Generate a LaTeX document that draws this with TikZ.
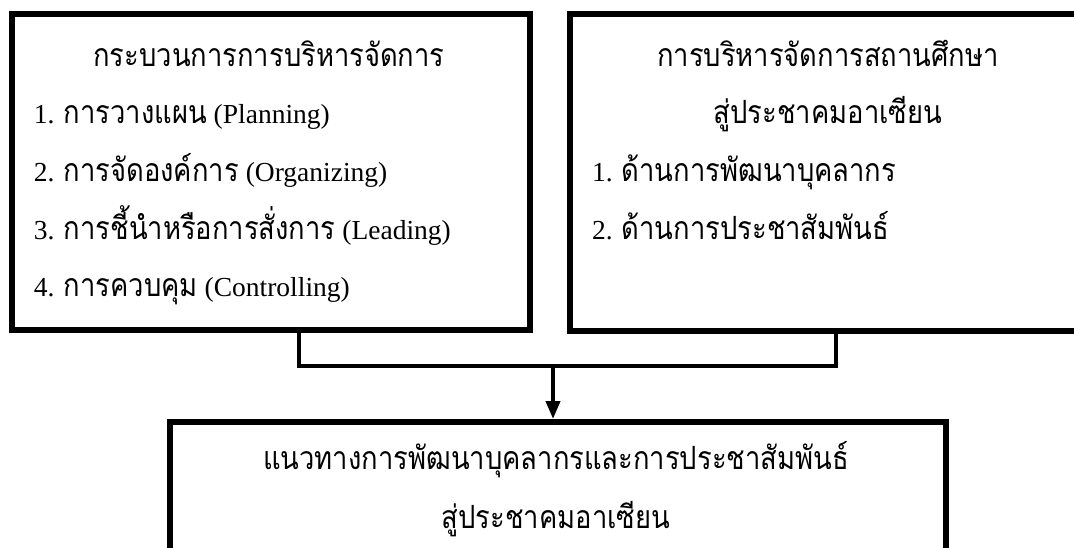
\documentclass[tikz,border=0pt]{standalone}
\usepackage{fontspec}
\setmainfont{Liberation Serif}
\newfontfamily\thaifont[Script=Thai,FakeStretch=0.855]{Loma}
\newcommand{\thtxt}[1]{{\thaifont\fontsize{32}{38}\selectfont #1}}
\usetikzlibrary{positioning,arrows.meta}

\begin{document}
\begin{tikzpicture}
[x=1pt, y=-1pt, font=\fontsize{27.5}{32}\selectfont,
    >={Triangle[length=18pt,width=14pt]},
    bigbox/.style={draw=black, rectangle, line width=6pt, inner sep=0pt},
    txt/.style={inner sep=0pt, outer sep=0pt, text=black},
    link/.style={draw=black, line width=4pt},
    ]
    \useasboundingbox (0,0) rectangle (1074,548);
    \clip (0,0) rectangle (1074,548);

    % the three big boxes
    \node[bigbox,
          minimum width=518pt,
          minimum height=316pt] (mgmt) at (271,172) {};
    \node[bigbox,
          minimum width=516pt,
          minimum height=317pt] (school) at (828,172.5) {};
    \node[bigbox,
          minimum width=776pt,
          minimum height=200pt] (guide) at (558,522) {};

    % left box: management process
    \node[txt, anchor=base] (mgmttitle) at (269,67) {\thtxt{กระบวนการการบริหารจัดการ}};
    \node[txt, anchor=base west] (plan) at (34,124) {1. \thtxt{การวางแผน} (Planning)};
    \node[txt, anchor=base west] (org) at (34,182) {2. \thtxt{การจัดองค์การ} (Organizing)};
    \node[txt, anchor=base west] (lead) at (34,240) {3. \thtxt{การชี้นำหรือการสั่งการ} (Leading)};
    \node[txt, anchor=base west] (ctrl) at (34,297) {4. \thtxt{การควบคุม} (Controlling)};

    % right box: school administration
    \node[txt, anchor=base] (schooltitle) at (828,67) {\thtxt{การบริหารจัดการสถานศึกษา}};
    \node[txt, anchor=base] (schooltitleb) at (828,124) {\thtxt{สู่ประชาคมอาเซียน}};
    \node[txt, anchor=base west] (staff) at (592,182) {1. \thtxt{ด้านการพัฒนาบุคลากร}};
    \node[txt, anchor=base west] (pr) at (592,240) {2. \thtxt{ด้านการประชาสัมพันธ์}};

    % bottom box
    \node[txt, anchor=base] (guidetitle) at (556,469) {\thtxt{แนวทางการพัฒนาบุคลากรและการประชาสัมพันธ์}};
    \node[txt, anchor=base] (guidetitleb) at (556,528) {\thtxt{สู่ประชาคมอาเซียน}};

    % joining bracket and arrow
    \coordinate (joinl) at (299,366);
    \coordinate (joinr) at (836,366);
    \coordinate (joinm) at (553,366);
    \draw[link] (mgmt.south -| joinl) -- (joinl) -- (joinr) -- (school.south -| joinr);
    \draw[link, ->] (joinm) -- (guide.north -| joinm);

\end{tikzpicture}
\end{document}
